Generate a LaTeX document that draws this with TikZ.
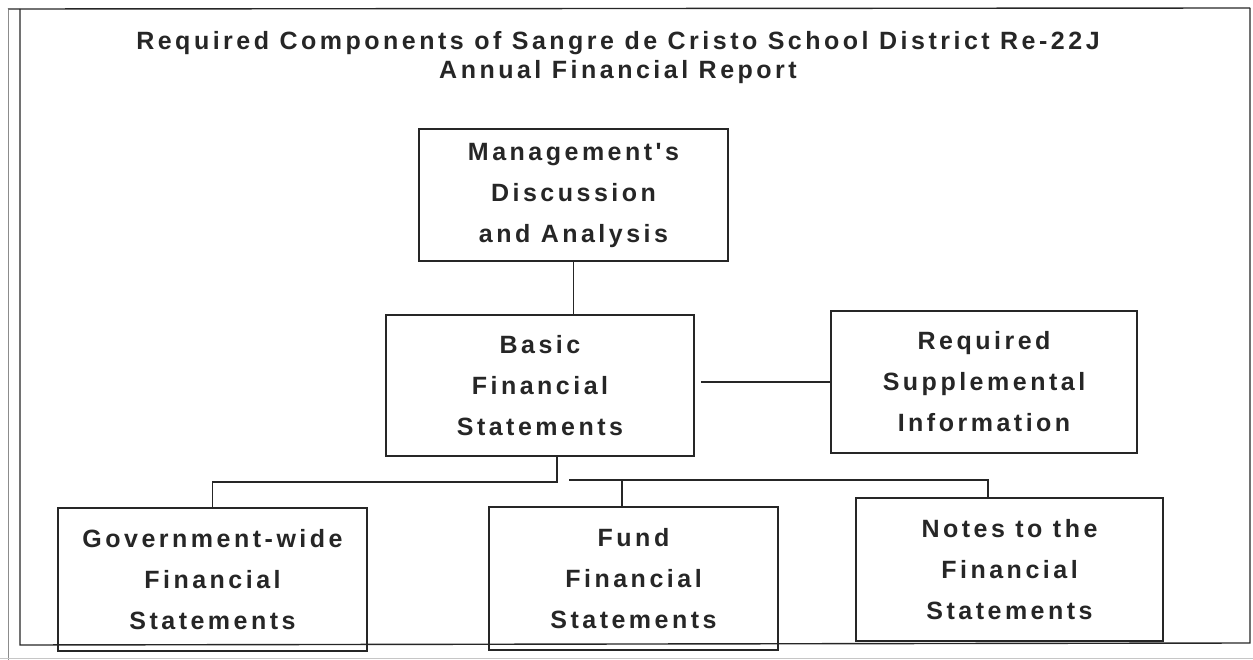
\documentclass[tikz,border=0pt]{standalone}
\usepackage{fontspec}
\newfontfamily\dfont{Liberation Sans}[LetterSpace=14]
\definecolor{ink}{HTML}{262626}
\definecolor{scan}{HTML}{8C8C8C}
\begin{document}
\begin{tikzpicture}[x=1pt,y=-1pt,
  boxst/.style={draw=ink, line width=1.9pt, rectangle, inner sep=0pt, align=center,
    text=ink, font=\dfont\bfseries\fontsize{25}{41}\selectfont},
  link/.style={draw=ink, line width=1.7pt},
  frame/.style={draw=ink, line width=1.4pt},
  ttl/.style={text=ink, align=center, font=\dfont\bfseries\fontsize{25}{29}\selectfont}]
\useasboundingbox (0,0) rectangle (1253,660);
% frame
\draw[scan, line width=1pt] (8,10) -- (8,660);
\draw[scan!50, line width=1pt] (0,658) -- (1253,658);
\draw[frame] (8,9) -- (1250,8);
\draw[frame] (20,9) -- (20,645) -- (1250,643) -- (1250,8);
% title
\node[ttl] (title) at (618,58) {Required Components of Sangre de Cristo School District Re-22J\\Annual Financial Report};
% boxes
\node[boxst, minimum width=309, minimum height=132] (mda) at (573.5,195) {Management's\\Discussion\\and Analysis};
\node[boxst, minimum width=308, minimum height=141] (basic) at (540,385.5) {Basic\\Financial\\Statements};
\node[boxst, minimum width=306, minimum height=142] (supp) at (984,382) {Required\\Supplemental\\Information};
\node[boxst, minimum width=309, minimum height=143] (gov) at (212.5,579.5) {Government-wide\\Financial\\Statements};
\node[boxst, minimum width=289, minimum height=143] (fund) at (633.5,578.5) {Fund\\Financial\\Statements};
\node[boxst, minimum width=307, minimum height=143] (notes) at (1009.5,569.5) {Notes to the\\Financial\\Statements};
% junctions
\coordinate (j1) at (557,482);
\coordinate (j2) at (569,480);
\coordinate (j3) at (988,480);
\coordinate (j4) at (622,480);
% connectors
\draw[link] (mda.south) -- (mda.south |- basic.north);
\draw[link] ([xshift=6pt]basic.east |- supp.west) -- (supp.west);
\draw[link] (basic.south -| j1) -- (j1) -- (gov.north |- j1) -- (gov.north);
\draw[link] (j2) -- (j3) -- (j3 |- notes.north);
\draw[link] (j4) -- (j4 |- fund.north);
\end{tikzpicture}
\end{document}
